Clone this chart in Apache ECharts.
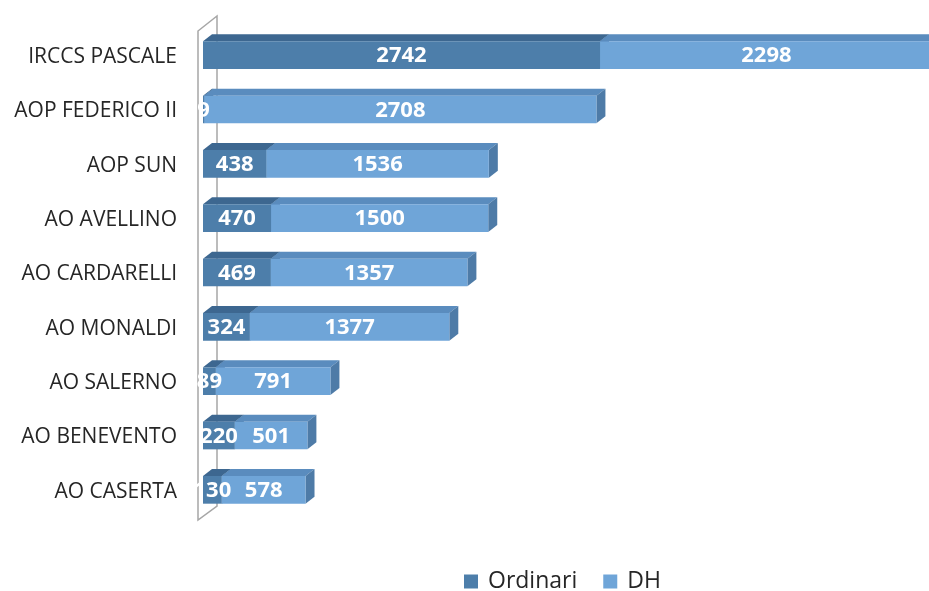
<!DOCTYPE html>
<html>
<head>
<meta charset="utf-8">
<script src="https://cdn.jsdelivr.net/npm/echarts@6/dist/echarts.min.js"></script>
<style>
  html, body { margin: 0; padding: 0; background: #fff; }
  #main { width: 929px; height: 591px; }
</style>
</head>
<body>
<div id="main"></div>
<script>
var categories = ['IRCCS PASCALE', 'AOP FEDERICO II', 'AOP SUN', 'AO AVELLINO', 'AO CARDARELLI', 'AO MONALDI', 'AO SALERNO', 'AO BENEVENTO', 'AO CASERTA'];
var ordinari = [2742, 9, 438, 470, 469, 324, 89, 220, 130];
var dh = [2298, 2708, 1536, 1500, 1357, 1377, 791, 501, 578];

// colori: fronte, sopra, lato
var colOrd = { front: '#4D7EAA', top: '#3D6790', side: '#3F6A94' };
var colDh = { front: '#6FA5D8', top: '#5A8CBE', side: '#4E7BA7' };

function barGeom(api) {
	var cat = api.value(2);
	var p0 = api.coord([api.value(0), cat]);
	var p1 = api.coord([api.value(1), cat]);
	var h = api.size([0, 1])[1] * 0.51;
	var cy = p0[1] - 2;
	return { x0 : p0[0], x1 : p1[0], cy : cy, y0 : cy - h / 2, y1 : cy + h / 2, h : h };
}

function makeRender(col) {
	return function (params, api) {
		var g = barGeom(api);
		var dx = 9, dy = 7;
		return {
			type : 'group',
			children : [ {
				type : 'polygon',
				shape : { points : [ [g.x0, g.y0], [g.x1, g.y0], [g.x1 + dx, g.y0 - dy], [g.x0 + dx, g.y0 - dy] ] },
				style : { fill : col.top }
			}, {
				type : 'polygon',
				shape : { points : [ [g.x1, g.y0], [g.x1 + dx, g.y0 - dy], [g.x1 + dx, g.y1 - dy], [g.x1, g.y1] ] },
				style : { fill : col.side }
			}, {
				type : 'rect',
				shape : { x : g.x0, y : g.y0, width : g.x1 - g.x0, height : g.h },
				style : { fill : col.front }
			} ]
		};
	};
}

function renderLabel(params, api) {
	var g = barGeom(api);
	return {
		type : 'text',
		x : (g.x0 + g.x1) / 2,
		y : g.cy + 1,
		style : {
			text : String(api.value(3)),
			fill : '#fff',
			font : 'bold 22px "Open Sans"',
			align : 'center',
			verticalAlign : 'middle'
		}
	};
}

var ordData = [], dhData = [], labelData = [];
for (var i = 0; i < categories.length; i++) {
	ordData.push([0, ordinari[i], i, ordinari[i]]);
	dhData.push([ordinari[i], ordinari[i] + dh[i], i, dh[i]]);
}
labelData = ordData.concat(dhData);

var myChart = echarts.init(document.getElementById('main'));
myChart.setOption({
	animation : false,
	grid : {
		left : 203,
		right : 0,
		top : 30,
		bottom : 72
	},
	legend : {
		data : [ 'Ordinari', 'DH' ],
		left : 459,
		top : 565,
		icon : 'rect',
		itemWidth : 14,
		itemHeight : 14,
		itemGap : 26,
		textStyle : {
			fontFamily : 'Open Sans',
			fontSize : 23,
			color : '#262626',
			padding : [ 0, 0, 0, 5 ]
		}
	},
	xAxis : {
		type : 'value',
		min : 0,
		max : 5014,
		show : false
	},
	yAxis : {
		type : 'category',
		data : categories,
		inverse : true,
		axisLine : { show : false },
		axisTick : { show : false },
		axisLabel : {
			margin : 26,
			fontFamily : 'Open Sans',
			fontSize : 21,
			color : '#262626'
		}
	},
	graphic : [ {
		type : 'polygon',
		z : 0,
		shape : { points : [ [198, 31], [217, 16], [217, 506], [198, 520] ] },
		style : { fill : '#fff', stroke : '#A6A6A6', lineWidth : 1.5 }
	} ],
	series : [ {
		name : 'Ordinari',
		type : 'custom',
		renderItem : makeRender(colOrd),
		encode : { x : [0, 1], y : 2 },
		itemStyle : { color : colOrd.front },
		clip : true,
		z : 3,
		data : ordData
	}, {
		name : 'DH',
		type : 'custom',
		renderItem : makeRender(colDh),
		encode : { x : [0, 1], y : 2 },
		itemStyle : { color : colDh.front },
		clip : true,
		z : 4,
		data : dhData
	}, {
		name : 'etichette',
		type : 'custom',
		renderItem : renderLabel,
		encode : { x : [0, 1], y : 2 },
		silent : true,
		z : 5,
		data : labelData
	} ]
});
</script>
</body>
</html>
